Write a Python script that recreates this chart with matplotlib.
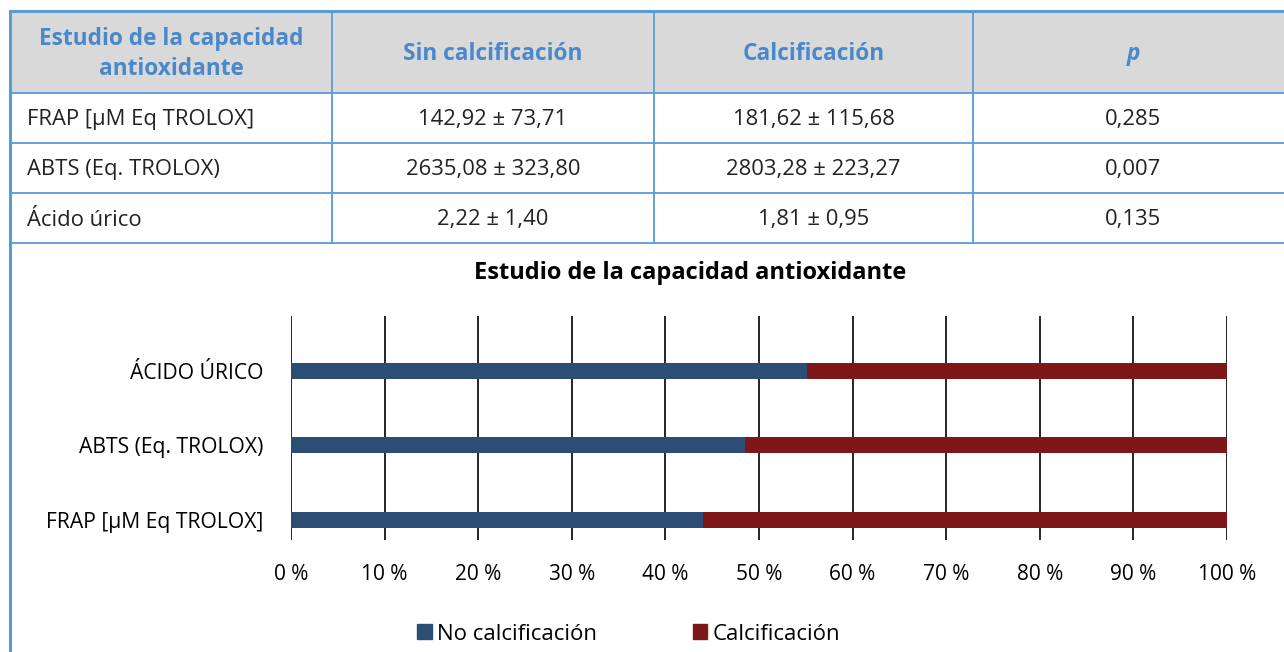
import matplotlib
matplotlib.use('Agg')
import matplotlib.pyplot as plt
from matplotlib.patches import Rectangle, Patch

plt.rcParams['font.family'] = ['Open Sans', 'DejaVu Sans']

# table data
header = ["Estudio de la capacidad\nantioxidante", "Sin calcificación", "Calcificación", "p"]
row_names = ["FRAP [µM Eq TROLOX]", "ABTS (Eq. TROLOX)", "Ácido úrico"]
sin_calc = ["142,92 ± 73,71", "2635,08 ± 323,80", "2,22 ± 1,40"]
calc = ["181,62 ± 115,68", "2803,28 ± 223,27", "1,81 ± 0,95"]
p_vals = ["0,285", "0,007", "0,135"]

# chart data (means)
categories = ["FRAP [µM Eq TROLOX]", "ABTS (Eq. TROLOX)", "ÁCIDO ÚRICO"]
no_calc_mean = [142.92, 2635.08, 2.22]
calc_mean = [181.62, 2803.28, 1.81]

BLUE_LINE = "#5b9bd5"
HEAD_TXT = "#4a88cc"
BAR_BLUE = "#2c4e75"
BAR_RED = "#7e1818"

W, H = 1284, 652
fig = plt.figure(figsize=(W / 100, H / 100), dpi=100)

# background axes in pixel coords for the table
bg = fig.add_axes([0, 0, 1, 1])
bg.set_xlim(0, W)
bg.set_ylim(H, 0)
bg.axis('off')

col_x = [10, 332, 654, 973, 1290]
row_y = [11, 93, 143, 193, 243]

bg.add_patch(Rectangle((10, 11), W - 10, 82, facecolor="#d9d9d9", edgecolor='none'))
for y in row_y[1:]:
    bg.plot([10, W], [y, y], color=BLUE_LINE, lw=1.3)
bg.plot([10, W], [11, 11], color=BLUE_LINE, lw=2.2)
for x in col_x[1:4]:
    bg.plot([x, x], [11, 243], color=BLUE_LINE, lw=1.3)
bg.plot([10, 10], [11, H], color=BLUE_LINE, lw=2.2)

# header
for i, txt in enumerate(header):
    cx = (col_x[i] + col_x[i + 1]) / 2
    if i == 3:
        cx = (col_x[3] + 1294) / 2
    bg.text(cx, 54, txt, ha='center', va='center', fontsize=16.3,
            fontweight='bold', color=HEAD_TXT, linespacing=1.3,
            style='italic' if txt == "p" else 'normal')

for r in range(3):
    cy = (row_y[r + 1] + row_y[r + 2]) / 2 + 2
    bg.text(27, cy, row_names[r], ha='left', va='center', fontsize=15.8, color="#222222")
    bg.text((col_x[1] + col_x[2]) / 2, cy, sin_calc[r], ha='center', va='center', fontsize=15.8, color="#222222")
    bg.text((col_x[2] + col_x[3]) / 2, cy, calc[r], ha='center', va='center', fontsize=15.8, color="#222222")
    bg.text((col_x[3] + 1294) / 2, cy, p_vals[r], ha='center', va='center', fontsize=15.8, color="#222222")

# chart
x0, x1 = 291, 1227
y_top, y_bot = 316, 540
ax = fig.add_axes([x0 / W, 1 - y_bot / H, (x1 - x0) / W, (y_bot - y_top) / H])

share_no = [a / (a + b) * 100 for a, b in zip(no_calc_mean, calc_mean)]
share_calc = [b / (a + b) * 100 for a, b in zip(no_calc_mean, calc_mean)]
ypos = list(range(len(categories)))
ax.barh(ypos, share_no, height=0.215, color=BAR_BLUE, zorder=2)
ax.barh(ypos, share_calc, left=share_no, height=0.215, color=BAR_RED, zorder=2)

ax.set_xlim(0, 100)
ax.set_ylim(-0.27, 2.74)
ax.set_xticks(range(0, 101, 10))
ax.set_xticklabels([f"{v} %" for v in range(0, 101, 10)], fontsize=15)
ax.set_yticks(ypos)
ax.set_yticklabels(categories, fontsize=15.2)
ax.tick_params(axis='both', length=0)
ax.tick_params(axis='x', pad=17)
ax.tick_params(axis='y', pad=20)
ax.grid(axis='x', color='black', lw=1.2, zorder=1)
ax.set_axisbelow(True)
for s in ax.spines.values():
    s.set_visible(False)

bg.text(690, 273, "Estudio de la capacidad antioxidante", ha='center', va='center',
        fontsize=17, fontweight='bold', color='black')

handles = [Patch(color=BAR_BLUE, label="No calcificación"),
           Patch(color=BAR_RED, label="Calcificación")]
fig.legend(handles=handles, loc='center', bbox_to_anchor=(629 / W, 1 - 634 / H), ncol=2,
           frameon=False, fontsize=16, handlelength=0.65, handleheight=0.65,
           handletextpad=0.25, columnspacing=4.3)

fig.savefig("out.png", dpi=100)
